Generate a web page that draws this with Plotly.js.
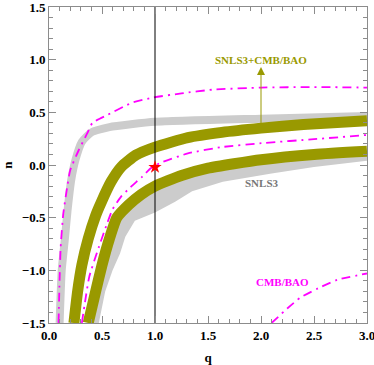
<!DOCTYPE html>
<html>
<head>
<meta charset="utf-8">
<script src="https://cdn.plot.ly/plotly-3.0.1.min.js"></script>
<style>
  html, body { margin: 0; padding: 0; background: #fff; }
  #plot { width: 374px; height: 365px; }
</style>
</head>
<body>
<div id="plot"></div>
<script>
// SNLS3 band (gray), upper branch
const snlsUpperQ = [0.10, 0.12, 0.15, 0.175, 0.21, 0.25, 0.31, 0.40, 0.57, 1.0, 2.0, 3.0];
const snlsUpperN = [-1.5, -1.0, -0.7, -0.43, -0.14, 0.05, 0.22, 0.31, 0.36, 0.41, 0.44, 0.465];

// SNLS3 lower region: outer edge
const snlsOuterQ = [0.47, 0.53, 0.60, 0.67, 0.72, 0.81, 1.0, 1.19, 1.35, 1.64, 2.1, 2.5, 3.0];
const snlsOuterN = [-1.5, -1.2, -1.0, -0.84, -0.68, -0.53, -0.45, -0.35, -0.25, -0.16, -0.08, -0.02, 0.04];

// SNLS3+CMB/BAO contour (olive), two branches
const jointUpperQ = [0.235, 0.27, 0.31, 0.37, 0.44, 0.49, 0.585, 0.68, 0.82, 1.0, 1.31, 1.63, 2.0, 2.4, 3.0];
const jointUpperN = [-1.5, -1.2, -0.95, -0.7, -0.48, -0.36, -0.16, -0.02, 0.095, 0.17, 0.26, 0.31, 0.35, 0.385, 0.42];
const jointLowerQ = [0.37, 0.44, 0.50, 0.57, 0.64, 0.75, 0.87, 1.0, 1.25, 1.5, 2.0, 2.5, 3.0];
const jointLowerN = [-1.5, -1.2, -0.95, -0.7, -0.5, -0.38, -0.28, -0.2, -0.1, -0.03, 0.05, 0.1, 0.13];

// CMB/BAO contours (magenta dot-dashed)
const cmbOuterQ = [0.09, 0.10, 0.11, 0.135, 0.17, 0.20, 0.28, 0.36, 0.41, 0.55, 0.78, 0.98, 1.25, 1.54, 2.0, 2.5, 3.0];
const cmbOuterN = [-1.5, -1.09, -0.78, -0.46, -0.22, -0.05, 0.14, 0.30, 0.40, 0.475, 0.59, 0.64, 0.68, 0.715, 0.735, 0.74, 0.735];
const cmbInnerQ = [0.31, 0.34, 0.38, 0.47, 0.55, 0.60, 0.68, 0.77, 0.88, 0.96, 1.05, 1.31, 1.63, 2.04, 2.5, 3.0];
const cmbInnerN = [-1.5, -1.3, -1.06, -0.78, -0.55, -0.42, -0.30, -0.21, -0.11, -0.03, 0.02, 0.11, 0.17, 0.21, 0.245, 0.285];
const cmbLowQ = [2.1, 2.25, 2.37, 2.54, 2.72, 3.0];
const cmbLowN = [-1.5, -1.36, -1.26, -1.17, -1.09, -1.03];

// reference line and best-fit point
const refQ = [1, 1];
const refN = [-1.5, 1.5];
const starQ = [1.0];
const starN = [-0.02];

const xTicks = [0, 0.5, 1, 1.5, 2, 2.5, 3];
const xTickText = ['0.0', '0.5', '1.0', '1.5', '2.0', '2.5', '3.0'];
const yTicks = [-1.5, -1, -0.5, 0, 0.5, 1, 1.5];
const yTickText = ['\u22121.5', '\u22121.0', '\u22120.5', '0.0', '0.5', '1.0', '1.5'];

const GRAY = '#cccccc';
const OLIVE = '#999900';
const MAGENTA = '#ff00ff';
const FRAME = '#8c8c8c';
const SERIF = 'Liberation Serif, Times New Roman, serif';

function line(q, n, color, width, dash) {
    return {
        x: q, y: n,
        type: 'scatter', mode: 'lines',
        line: { color, width, dash: dash || 'solid', shape: 'spline', smoothing: 0.5 },
        hoverinfo: 'skip',
    };
}

// gray lower region = outer edge + lower olive branch reversed
const regionQ = snlsOuterQ.concat(jointLowerQ.slice().reverse());
const regionN = snlsOuterN.concat(jointLowerN.slice().reverse());

const dotDash = '9px,5px,2px,5px';

const data = [
    {
        x: regionQ, y: regionN, type: 'scatter', mode: 'lines',
        fill: 'toself', fillcolor: GRAY, line: { width: 0, color: GRAY },
        hoverinfo: 'skip',
    },
    line(snlsUpperQ, snlsUpperN, GRAY, 8),
    line(jointLowerQ, jointLowerN, OLIVE, 11),
    line(jointUpperQ, jointUpperN, OLIVE, 11),
    line(cmbOuterQ, cmbOuterN, MAGENTA, 1.8, dotDash),
    line(cmbInnerQ, cmbInnerN, MAGENTA, 1.8, dotDash),
    line(cmbLowQ, cmbLowN, MAGENTA, 1.8, dotDash),
    {
        x: refQ, y: refN, type: 'scatter', mode: 'lines',
        line: { color: '#000', width: 1 }, hoverinfo: 'skip',
    },
    {
        x: starQ, y: starN, type: 'scatter', mode: 'markers',
        marker: { symbol: 'star', size: 10, color: '#ff0000' },
        hoverinfo: 'skip',
    },
];

function axis(range, tickvals, ticktext, title, standoff) {
    return {
        range,
        tickvals, ticktext,
        ticks: 'inside', ticklen: 7, tickwidth: 1, tickcolor: FRAME,
        minor: { dtick: 0.1, ticklen: 4, tickwidth: 1, tickcolor: FRAME, ticks: 'inside', showgrid: false },
        showline: true, linecolor: FRAME, linewidth: 1, mirror: 'ticks',
        showgrid: false, zeroline: false,
        ticklabeloverflow: 'allow',
        tickfont: { family: SERIF, size: 13, color: '#000', weight: 'bold' },
        title: { text: title, font: { family: SERIF, size: 13, color: '#000', weight: 'bold' }, standoff },
    };
}

const labelFont = (color) => ({ family: SERIF, size: 11, color, weight: 'bold' });

const layout = {
    width: 374, height: 365,
    margin: { l: 49, r: 7, t: 7, b: 42 },
    paper_bgcolor: '#fff', plot_bgcolor: '#fff',
    showlegend: false,
    xaxis: axis([0, 3], xTicks, xTickText, 'q', 12),
    yaxis: axis([-1.5, 1.5], yTicks, yTickText, 'n', 13),
    annotations: [
        {
            x: 2.0, y: 0.93, ax: 2.0, ay: 0.37, axref: 'x', ayref: 'y',
            text: '', showarrow: true, arrowhead: 2, arrowsize: 1.6, arrowwidth: 1, arrowcolor: OLIVE,
        },
        { x: 2.0, y: 1.0, text: 'SNLS3+CMB/BAO', showarrow: false, font: labelFont(OLIVE) },
        { x: 2.01, y: -0.17, text: 'SNLS3', showarrow: false, font: labelFont('#777777') },
        { x: 2.2, y: -1.11, text: 'CMB/BAO', showarrow: false, font: labelFont(MAGENTA) },
    ],
};

Plotly.newPlot('plot', data, layout, { displayModeBar: false, staticPlot: true });
</script>
</body>
</html>
